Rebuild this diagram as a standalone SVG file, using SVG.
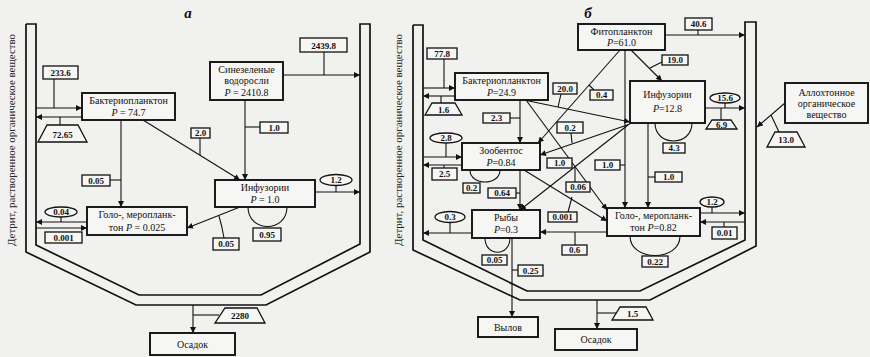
<svg xmlns="http://www.w3.org/2000/svg" width="870" height="357" viewBox="0 0 870 357" font-family="'Liberation Serif', 'Times New Roman', serif">
<defs>
<marker id="ah" markerUnits="userSpaceOnUse" markerWidth="7" markerHeight="6" refX="6" refY="3" orient="auto">
<path d="M0,0 L6,3 L0,6 z" fill="#111"/>
</marker>
<style>
.wall{fill:none;stroke:#111;stroke-width:1.7}
.nb{fill:#f6f6f4;stroke:#111;stroke-width:1.9}
.lb{fill:#f6f6f4;stroke:#111;stroke-width:1.3}
.tr{fill:#f6f6f4;stroke:#111;stroke-width:1.3}
.ln{fill:none;stroke:#111;stroke-width:1.1}
.ar{fill:none;stroke:#111;stroke-width:1.1;marker-end:url(#ah)}
text{font-family:"Liberation Serif","Times New Roman",serif}
.nt{font-size:10px;fill:#111;text-anchor:middle}
.lt{font-size:9px;font-weight:bold;fill:#111;text-anchor:middle}
.vt{font-size:10px;fill:#222;text-anchor:middle}
.ttl{font-size:15px;font-style:italic;font-weight:bold;fill:#111;text-anchor:middle}
.i{font-style:italic}
</style>
</defs>
<rect x="0" y="0" width="870" height="357" fill="#f1f1ef"/>

<!-- ===== Panel a ===== -->
<g id="vessel-a">
<polyline class="wall" points="26,24 26,252 136,305 266,305 370,252 370,24 360,24 360,244 261,295 139,295 36,245 36,24 26,24"/>
<text class="vt" transform="translate(15,140) rotate(-90)" textLength="212" lengthAdjust="spacingAndGlyphs">Детрит, растворенное органическое вещество</text>
<text class="ttl" x="188" y="18">а</text>
</g>

<g id="connectors-a">
<line class="ar" x1="36" y1="108" x2="82" y2="108"/>
<line class="ar" x1="82" y1="117" x2="36" y2="117"/>
<line class="ln" x1="54" y1="79" x2="54" y2="108"/>
<line class="ln" x1="60" y1="117" x2="60" y2="125"/>
<line class="ar" x1="283" y1="75" x2="360" y2="75"/>
<line class="ln" x1="324" y1="52" x2="324" y2="75"/>
<line class="ar" x1="245" y1="100" x2="245" y2="180"/>
<line class="ln" x1="245" y1="127" x2="260" y2="127"/>
<line class="ar" x1="143" y1="120" x2="240" y2="180"/>
<line class="ln" x1="200" y1="138" x2="200" y2="155"/>
<line class="ar" x1="121" y1="120" x2="121" y2="207"/>
<line class="ln" x1="110" y1="180" x2="121" y2="180"/>
<line class="ar" x1="240" y1="207" x2="187" y2="228"/>
<path class="ln" d="M224,238 Q222,226 219,216"/>
<line class="ar" x1="315" y1="192" x2="360" y2="192"/>
<line class="ln" x1="336" y1="185" x2="336" y2="192"/>
<path class="ln" d="M248,207 C248,233 287,233 287,207"/>
<line class="ar" x1="87" y1="222" x2="36" y2="222"/>
<line class="ln" x1="61" y1="217" x2="61" y2="222"/>
<line class="ar" x1="36" y1="228" x2="87" y2="228"/>
<line class="ar" x1="193" y1="305" x2="193" y2="333"/>
<line class="ln" x1="193" y1="315" x2="219" y2="315"/>
</g>

<g id="bact-a"><rect class="nb" x="82" y="93" width="93" height="27"/><text class="nt" x="128.5" y="104">Бактериопланктон</text><text class="nt" x="128.5" y="116"><tspan class="i">P</tspan> = 74.7</text></g>
<g id="cyano-a"><rect class="nb" x="210" y="62" width="73" height="38"/><text class="nt" x="246.5" y="73">Синезеленые</text><text class="nt" x="246.5" y="84">водоросли</text><text class="nt" x="246.5" y="96"><tspan class="i">P</tspan> = 2410.8</text></g>
<g id="inf-a"><rect class="nb" x="215" y="180" width="100" height="27"/><text class="nt" x="265" y="191">Инфузории</text><text class="nt" x="265" y="203"><tspan class="i">P</tspan> = 1.0</text></g>
<g id="golo-a"><rect class="nb" x="87" y="207" width="100" height="28"/><text class="nt" x="137" y="218">Голо-, меропланк-</text><text class="nt" x="137" y="231">тон <tspan class="i">P</tspan> = 0.025</text></g>
<g id="sed-a"><rect class="nb" x="150" y="333" width="85" height="22"/><text class="nt" x="192.5" y="348">Осадок</text></g>

<g id="labels-a">
<rect class="lb" x="43" y="66" width="35" height="13"/><text class="lt" x="60.5" y="75.8">233.6</text>
<polygon class="tr" points="47,125 78,125 87,142 38,142"/><text class="lt" x="62.5" y="137.5">72.65</text>
<rect class="lb" x="300" y="38" width="47" height="14"/><text class="lt" x="323.5" y="48.5">2439.8</text>
<rect class="lb" x="260" y="122" width="28" height="11"/><text class="lt" x="274" y="130.8">1.0</text>
<rect class="lb" x="191" y="128" width="19" height="10"/><text class="lt" x="200.5" y="136">2.0</text>
<rect class="lb" x="82" y="175" width="28" height="11"/><text class="lt" x="96" y="183.8">0.05</text>
<ellipse class="lb" cx="336" cy="180" rx="16" ry="5.5"/><text class="lt" x="336" y="183.3">1.2</text>
<rect class="lb" x="253" y="228" width="28" height="13"/><text class="lt" x="267" y="237.8">0.95</text>
<rect class="lb" x="213" y="238" width="26" height="12"/><text class="lt" x="226" y="247.3">0.05</text>
<ellipse class="lb" cx="61" cy="212" rx="16" ry="5"/><text class="lt" x="61" y="215.3">0.04</text>
<rect class="lb" x="45" y="232" width="37" height="11"/><text class="lt" x="63.5" y="240.8">0.001</text>
<polygon class="tr" points="225,308 257,308 265,323 215,323"/><text class="lt" x="240" y="319">2280</text>
</g>

<!-- ===== Panel b ===== -->
<g id="vessel-b">
<polyline class="wall" points="413,25 413,250 520,300 650,300 756,246 756,22 745,22 745,240 640,291 527,291 423,240 423,25 413,25"/>
<text class="vt" transform="translate(402,140) rotate(-90)" textLength="212" lengthAdjust="spacingAndGlyphs">Детрит, растворенное органическое вещество</text>
<text class="ttl" x="588" y="18">б</text>
</g>

<g id="connectors-b">
<line class="ar" x1="423" y1="88" x2="455" y2="88"/>
<line class="ar" x1="455" y1="96" x2="423" y2="96"/>
<line class="ln" x1="444" y1="59" x2="444" y2="88"/>
<line class="ln" x1="441" y1="96" x2="441" y2="103"/>
<line class="ar" x1="665" y1="35" x2="745" y2="35"/>
<line class="ln" x1="698" y1="30" x2="698" y2="35"/>
<line class="ar" x1="631" y1="50" x2="662" y2="81"/>
<line class="ln" x1="662" y1="62" x2="650" y2="68"/>
<line class="ar" x1="620" y1="50" x2="538" y2="143"/>
<line class="ln" x1="594" y1="90" x2="589" y2="85"/>
<line class="ar" x1="625" y1="50" x2="625" y2="208"/>
<line class="ln" x1="620" y1="165" x2="625" y2="165"/>
<line class="ar" x1="705" y1="108" x2="745" y2="108"/>
<line class="ln" x1="725" y1="103" x2="725" y2="108"/>
<line class="ln" x1="721" y1="108" x2="721" y2="120"/>
<line class="ar" x1="785" y1="103" x2="757" y2="127"/>
<line class="ln" x1="771" y1="115" x2="779" y2="132"/>
<path class="ln" d="M655,123 C655,147 692,147 692,123"/>
<line class="ar" x1="648" y1="123" x2="648" y2="208"/>
<line class="ln" x1="648" y1="177" x2="655" y2="177"/>
<line class="ar" x1="520" y1="100" x2="520" y2="143"/>
<line class="ln" x1="510" y1="118" x2="520" y2="118"/>
<line class="ar" x1="524" y1="100" x2="630" y2="122"/>
<line class="ln" x1="561" y1="94" x2="558" y2="107"/>
<line class="ar" x1="526" y1="100" x2="607" y2="210"/>
<line class="ar" x1="630" y1="124" x2="540" y2="155"/>
<line class="ln" x1="571" y1="133" x2="572" y2="143"/>
<line class="ar" x1="628" y1="125" x2="520" y2="210"/>
<line class="ln" x1="575" y1="182" x2="575" y2="167"/>
<line class="ar" x1="524" y1="170" x2="607" y2="221"/>
<line class="ln" x1="568" y1="212" x2="572" y2="197"/>
<line class="ar" x1="423" y1="157" x2="462" y2="157"/>
<line class="ln" x1="446" y1="143" x2="446" y2="157"/>
<line class="ar" x1="462" y1="165" x2="423" y2="165"/>
<line class="ln" x1="444" y1="165" x2="444" y2="168"/>
<path class="ln" d="M470,170 C470,186 500,186 500,170"/>
<line class="ar" x1="520" y1="170" x2="520" y2="210"/>
<line class="ln" x1="516" y1="193" x2="520" y2="193"/>
<line class="ar" x1="472" y1="233" x2="423" y2="233"/>
<line class="ln" x1="450" y1="222" x2="450" y2="233"/>
<path class="ln" d="M485,238 C485,257 510,257 510,238"/>
<line class="ar" x1="512" y1="238" x2="512" y2="317"/>
<line class="ln" x1="512" y1="270" x2="518" y2="270"/>
<line class="ar" x1="607" y1="232" x2="540" y2="232"/>
<line class="ln" x1="575" y1="232" x2="575" y2="245"/>
<line class="ar" x1="700" y1="213" x2="745" y2="213"/>
<line class="ln" x1="712" y1="207" x2="712" y2="213"/>
<line class="ar" x1="745" y1="222" x2="700" y2="222"/>
<line class="ln" x1="724" y1="222" x2="724" y2="227"/>
<path class="ln" d="M630,236 C630,262 680,262 680,236"/>
<line class="ar" x1="597" y1="300" x2="597" y2="329"/>
<line class="ln" x1="597" y1="313" x2="617" y2="313"/>
</g>

<g id="phyto-b"><rect class="nb" x="578" y="24" width="87" height="26"/><text class="nt" x="621.5" y="35">Фитопланктон</text><text class="nt" x="621.5" y="46"><tspan class="i">P</tspan>=61.0</text></g>
<g id="bact-b"><rect class="nb" x="455" y="73" width="93" height="27"/><text class="nt" x="501.5" y="84">Бактериопланктон</text><text class="nt" x="501.5" y="96"><tspan class="i">P</tspan>=24.9</text></g>
<g id="inf-b"><rect class="nb" x="630" y="81" width="75" height="42"/><text class="nt" x="667.5" y="98">Инфузории</text><text class="nt" x="667.5" y="112"><tspan class="i">P</tspan>=12.8</text></g>
<g id="zoob-b"><rect class="nb" x="462" y="143" width="78" height="27"/><text class="nt" x="501" y="154">Зообентос</text><text class="nt" x="501" y="166"><tspan class="i">P</tspan>=0.84</text></g>
<g id="fish-b"><rect class="nb" x="472" y="210" width="68" height="28"/><text class="nt" x="506" y="221">Рыбы</text><text class="nt" x="506" y="233"><tspan class="i">P</tspan>=0.3</text></g>
<g id="golo-b"><rect class="nb" x="607" y="208" width="93" height="28"/><text class="nt" x="653.5" y="219">Голо-, меропланк-</text><text class="nt" x="653.5" y="231">тон <tspan class="i">P</tspan>=0.82</text></g>
<g id="catch-b"><rect class="nb" x="478" y="317" width="60" height="20"/><text class="nt" x="508" y="331">Вылов</text></g>
<g id="sed-b"><rect class="nb" x="555" y="329" width="82" height="21"/><text class="nt" x="596" y="343">Осадок</text></g>
<g id="alloch-b"><rect class="nb" x="785" y="83" width="83" height="40"/><text class="nt" x="826.5" y="96">Аллохтонное</text><text class="nt" x="826.5" y="107">органическое</text><text class="nt" x="826.5" y="118">вещество</text></g>

<g id="labels-b">
<rect class="lb" x="427" y="48" width="30" height="11"/><text class="lt" x="442" y="56.8">77.8</text>
<polygon class="tr" points="432,103 455,103 462,115 425,115"/><text class="lt" x="443.5" y="112.5">1.6</text>
<rect class="lb" x="685" y="18" width="27" height="12"/><text class="lt" x="698.5" y="27.3">40.6</text>
<rect class="lb" x="662" y="55" width="26" height="10"/><text class="lt" x="675" y="63">19.0</text>
<rect class="lb" x="553" y="83" width="24" height="11"/><text class="lt" x="565" y="91.8">20.0</text>
<rect class="lb" x="590" y="90" width="23" height="10"/><text class="lt" x="601.5" y="98">0.4</text>
<ellipse class="lb" cx="725" cy="98" rx="15" ry="5"/><text class="lt" x="725" y="101.3">15.6</text>
<polygon class="tr" points="712,120 731,120 737,129 706,129"/><text class="lt" x="721.5" y="127.5">6.9</text>
<polygon class="tr" points="775,132 797,132 805,147 767,147"/><text class="lt" x="786" y="143">13.0</text>
<rect class="lb" x="483" y="113" width="27" height="10"/><text class="lt" x="496.5" y="121">2.3</text>
<rect class="lb" x="557" y="122" width="26" height="11"/><text class="lt" x="570" y="130.8">0.2</text>
<rect class="lb" x="663" y="143" width="22" height="10"/><text class="lt" x="674" y="151">4.3</text>
<ellipse class="lb" cx="446" cy="138" rx="16" ry="5"/><text class="lt" x="446" y="141.3">2.8</text>
<rect class="lb" x="547" y="158" width="25" height="10"/><text class="lt" x="559.5" y="166">1.0</text>
<rect class="lb" x="595" y="160" width="25" height="10"/><text class="lt" x="607.5" y="168">1.0</text>
<rect class="lb" x="655" y="172" width="27" height="10"/><text class="lt" x="668.5" y="180">1.0</text>
<rect class="lb" x="432" y="168" width="25" height="12"/><text class="lt" x="444.5" y="177.3">2.5</text>
<rect class="lb" x="463" y="183" width="17" height="10"/><text class="lt" x="471.5" y="191">0.2</text>
<rect class="lb" x="566" y="182" width="24" height="10"/><text class="lt" x="578" y="190">0.06</text>
<rect class="lb" x="488" y="188" width="28" height="10"/><text class="lt" x="502" y="196">0.64</text>
<ellipse class="lb" cx="712" cy="202" rx="12" ry="5"/><text class="lt" x="712" y="205.3">1.2</text>
<ellipse class="lb" cx="450" cy="217" rx="15" ry="5.5"/><text class="lt" x="450" y="220.3">0.3</text>
<rect class="lb" x="548" y="212" width="29" height="10"/><text class="lt" x="562.5" y="220">0.001</text>
<rect class="lb" x="712" y="227" width="25" height="12"/><text class="lt" x="724.5" y="236.3">0.01</text>
<rect class="lb" x="562" y="245" width="25" height="10"/><text class="lt" x="574.5" y="253">0.6</text>
<rect class="lb" x="482" y="255" width="25" height="10"/><text class="lt" x="494.5" y="263">0.05</text>
<rect class="lb" x="642" y="256" width="26" height="11"/><text class="lt" x="655" y="264.8">0.22</text>
<rect class="lb" x="518" y="265" width="25" height="11"/><text class="lt" x="530.5" y="273.8">0.25</text>
<polygon class="tr" points="620,307 646,307 653,320 612,320"/><text class="lt" x="632.5" y="317">1.5</text>
</g>
</svg>
